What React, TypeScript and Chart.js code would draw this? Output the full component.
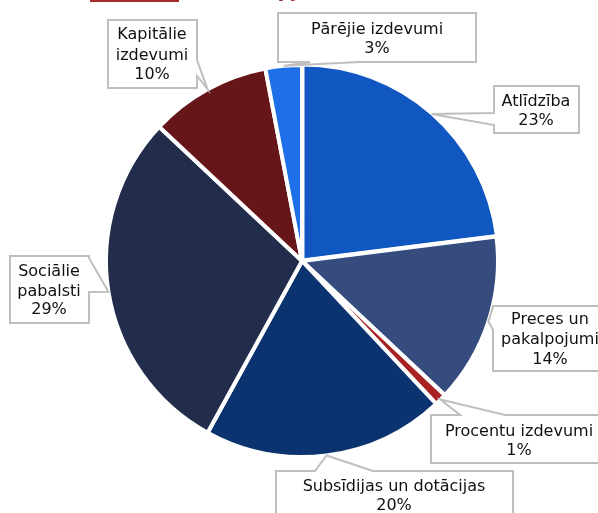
import React, { useEffect, useRef } from "react";
import { Chart, registerables } from "chart.js";

Chart.register(...registerables);

const categories = [
  "Atlīdzība",
  "Preces un pakalpojumi",
  "Procentu izdevumi",
  "Subsīdijas un dotācijas",
  "Sociālie pabalsti",
  "Kapitālie izdevumi",
  "Pārējie izdevumi",
];
const shares = [23, 14, 1, 20, 29, 10, 3];
const labelLines = [
  ["Atlīdzība", "23%"],
  ["Preces un", "pakalpojumi", "14%"],
  ["Procentu izdevumi", "1%"],
  ["Subsīdijas un dotācijas", "20%"],
  ["Sociālie", "pabalsti", "29%"],
  ["Kapitālie", "izdevumi", "10%"],
  ["Pārējie izdevumi", "3%"],
];
const colors = ["#1157c2", "#374c7e", "#a82224", "#0a3370", "#212d4b", "#661618", "#1f70e8"];
const offsets = [3, 0, 0, 0, 0, 0, 0];

// callout layout: box [x1,y1,x2,y2], wedge side, wedge base range, text center x, line ys
const callouts = [
  { box: [494, 86, 579, 133], side: "left", base: [113, 125], tx: 536, ty: [102, 121] },
  { box: [493, 306, 606, 371], side: "left", base: [307, 330], tx: 550, ty: [320, 340, 360] },
  { box: [431, 415, 606, 463], side: "top", base: [460, 505], tx: 519, ty: [432, 451] },
  { box: [276, 471, 513, 520], side: "top", base: [315, 373], tx: 394, ty: [487, 506] },
  { box: [10, 256, 89, 323], side: "right", base: [258, 292], tx: 49, ty: [272, 292, 310] },
  { box: [108, 20, 197, 88], side: "right", base: [60, 76], tx: 152, ty: [35, 56, 75] },
  { box: [278, 13, 476, 62], side: "bottom", base: [310, 360], tx: 377, ty: [30, 49] },
];

const calloutPlugin = {
  id: "callouts",
  afterDatasetsDraw(chart: any) {
    const ctx = chart.ctx;
    const meta = chart.getDatasetMeta(0);
    ctx.save();
    // cropped title remnants at top
    ctx.fillStyle = "#a52a2a";
    ctx.fillRect(90, 0, 89, 2);
    ctx.font = "bold 20px 'DejaVu Sans'";
    ctx.textAlign = "left";
    ctx.textBaseline = "alphabetic";
    ctx.fillText("apjoms", 264, -3);

    meta.data.forEach((arc: any, i: number) => {
      const c = callouts[i];
      const p = arc.getProps(["x", "y", "startAngle", "endAngle", "outerRadius"], true);
      const mid = (p.startAngle + p.endAngle) / 2;
      const tip = [p.x + Math.cos(mid) * p.outerRadius, p.y + Math.sin(mid) * p.outerRadius];
      const [x1, y1, x2, y2] = c.box;
      const [a, b] = c.base;
      ctx.beginPath();
      ctx.moveTo(x1, y1);
      if (c.side === "top") {
        ctx.lineTo(a, y1);
        ctx.lineTo(tip[0], tip[1]);
        ctx.lineTo(b, y1);
      }
      ctx.lineTo(x2, y1);
      if (c.side === "right") {
        ctx.lineTo(x2, a);
        ctx.lineTo(tip[0], tip[1]);
        ctx.lineTo(x2, b);
      }
      ctx.lineTo(x2, y2);
      if (c.side === "bottom") {
        ctx.lineTo(b, y2);
        ctx.lineTo(tip[0], tip[1]);
        ctx.lineTo(a, y2);
      }
      ctx.lineTo(x1, y2);
      if (c.side === "left") {
        ctx.lineTo(x1, b);
        ctx.lineTo(tip[0], tip[1]);
        ctx.lineTo(x1, a);
      }
      ctx.closePath();
      ctx.fillStyle = "#ffffff";
      ctx.fill();
      ctx.lineWidth = 2;
      ctx.strokeStyle = "#bfbfbf";
      ctx.lineJoin = "miter";
      ctx.stroke();

      ctx.fillStyle = "#111111";
      ctx.font = "16px 'DejaVu Sans'";
      ctx.textAlign = "center";
      ctx.textBaseline = "middle";
      labelLines[i].forEach((t, k) => ctx.fillText(t, c.tx, c.ty[k]));
    });
    ctx.restore();
  },
};

export default function App() {
  const ref = useRef<HTMLCanvasElement>(null);
  useEffect(() => {
    document.body.style.margin = "0";
    const chart = new Chart(ref.current!, {
      type: "pie",
      data: {
        labels: categories,
        datasets: [
          {
            data: shares,
            backgroundColor: colors,
            borderColor: "#ffffff",
            borderWidth: 4,
            offset: offsets,
          },
        ],
      },
      options: {
        responsive: false,
        animation: false,
        radius: 196,
        layout: { padding: { left: 107, right: 101, top: 66, bottom: 57 } },
        plugins: { legend: { display: false }, tooltip: { enabled: false }, title: { display: false } },
      } as any,
      plugins: [calloutPlugin],
    });
    return () => chart.destroy();
  }, []);
  return (
    <div style={{ width: 598, height: 513 }}>
      <canvas ref={ref} width={598} height={513} style={{ display: "block" }} />
    </div>
  );
}
